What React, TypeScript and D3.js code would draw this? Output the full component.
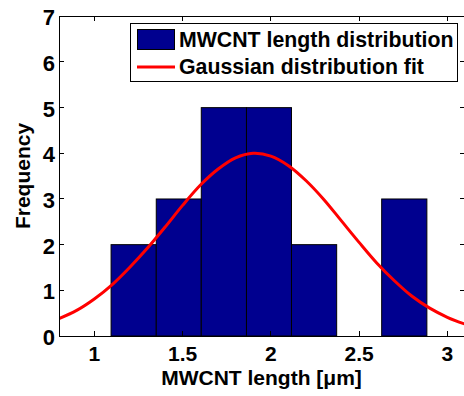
import React, { useEffect, useRef } from 'react';
import * as d3 from 'd3';

// histogram bins
const binEdges = [1.095, 1.351, 1.606, 1.862, 2.117, 2.373, 2.628, 2.884];
const binCounts = [2, 3, 5, 5, 2, 0, 3];

// gaussian fit curve
const fitX = [0.8, 0.9, 1.0, 1.1, 1.2, 1.3, 1.4, 1.5, 1.6, 1.7, 1.8, 1.9, 2.0, 2.1, 2.2, 2.3, 2.4, 2.5, 2.6, 2.7, 2.8, 2.9, 3.0, 3.1];
const fitY = [0.38, 0.56, 0.81, 1.12, 1.5, 1.92, 2.38, 2.86, 3.3, 3.65, 3.9, 4.0, 3.94, 3.73, 3.4, 2.99, 2.52, 2.05, 1.6, 1.21, 0.87, 0.61, 0.41, 0.26];

const xTicks = [1, 1.5, 2, 2.5, 3];
const yTicks = [0, 1, 2, 3, 4, 5, 6, 7];

const seriesNames = ['MWCNT length distribution', 'Gaussian distribution fit'];

const W = 464;
const H = 396;
const FONT = '"Liberation Sans", Arial, Helvetica, sans-serif';

const App: React.FC = () => {
  const ref = useRef<SVGSVGElement>(null);

  useEffect(() => {
    if (!ref.current) return;
    const svg = d3.select(ref.current);
    svg.selectAll('*').remove();

    const left = 59, right = 465, top = 16.3, bottom = 336;

    const x = d3.scaleLinear().domain([0.8, 3.1]).range([left, right]);
    const y = d3.scaleLinear().domain([0, 7]).range([bottom, top]);

    const clipId = 'plot-clip';
    svg.append('clipPath').attr('id', clipId)
      .append('rect')
      .attr('x', left).attr('y', top)
      .attr('width', right - left).attr('height', bottom - top);

    const plot = svg.append('g').attr('clip-path', `url(#${clipId})`);

    // bars
    const bins = binCounts.map((c, i) => ({ x0: binEdges[i], x1: binEdges[i + 1], c }));
    plot.selectAll('rect.bar')
      .data(bins.filter(b => b.c > 0))
      .enter()
      .append('rect')
      .attr('class', 'bar')
      .attr('x', d => x(d.x0))
      .attr('y', d => y(d.c))
      .attr('width', d => x(d.x1) - x(d.x0))
      .attr('height', d => y(0) - y(d.c))
      .attr('fill', '#00008f')
      .attr('stroke', '#000')
      .attr('stroke-width', 1);

    // fit line
    const line = d3.line<number>()
      .x((_, i) => x(fitX[i]))
      .y(d => y(d))
      .curve(d3.curveCatmullRom);

    plot.append('path')
      .datum(fitY)
      .attr('fill', 'none')
      .attr('stroke', '#ff0000')
      .attr('stroke-width', 3)
      .attr('d', line);

    // box axes with inward ticks
    const ax = svg.append('g').attr('stroke', '#000').attr('stroke-width', 1).attr('shape-rendering', 'crispEdges');
    ax.append('rect')
      .attr('x', left).attr('y', top)
      .attr('width', right - left).attr('height', bottom - top)
      .attr('fill', 'none');

    const tl = 5;
    xTicks.forEach(t => {
      ax.append('line').attr('x1', x(t)).attr('x2', x(t)).attr('y1', bottom).attr('y2', bottom - tl);
      ax.append('line').attr('x1', x(t)).attr('x2', x(t)).attr('y1', top).attr('y2', top + tl);
    });
    yTicks.forEach(t => {
      ax.append('line').attr('x1', left).attr('x2', left + tl).attr('y1', y(t)).attr('y2', y(t));
      ax.append('line').attr('x1', right).attr('x2', right - tl).attr('y1', y(t)).attr('y2', y(t));
    });

    const labels = svg.append('g')
      .attr('font-family', FONT)
      .attr('font-weight', 'bold')
      .attr('font-size', 21)
      .attr('fill', '#000');

    labels.selectAll('text.xt')
      .data(xTicks)
      .enter()
      .append('text')
      .attr('class', 'xt')
      .attr('x', d => x(d))
      .attr('y', bottom + 25)
      .attr('text-anchor', 'middle')
      .text(d => d3.format('')(d));

    labels.selectAll('text.yt')
      .data(yTicks)
      .enter()
      .append('text')
      .attr('class', 'yt')
      .attr('x', left - 4)
      .attr('y', d => y(d) + 9)
      .attr('text-anchor', 'end')
      .attr('font-size', 22)
      .text(d => String(d));

    labels.append('text')
      .attr('x', (left + 464) / 2)
      .attr('y', 385)
      .attr('text-anchor', 'middle')
      .text('MWCNT length [\u03bcm]');

    labels.append('text')
      .attr('transform', `translate(30,176) rotate(-90)`)
      .attr('text-anchor', 'middle')
      .text('Frequency');

    // legend
    const lg = svg.append('g');
    lg.append('rect')
      .attr('x', 130.5).attr('y', 23.5)
      .attr('width', 327).attr('height', 58)
      .attr('fill', '#fff')
      .attr('stroke', '#000')
      .attr('stroke-width', 1);
    lg.append('rect')
      .attr('x', 137.5).attr('y', 29.5)
      .attr('width', 37).attr('height', 20)
      .attr('fill', '#00008f')
      .attr('stroke', '#000')
      .attr('stroke-width', 1);
    lg.append('line')
      .attr('x1', 137).attr('x2', 175)
      .attr('y1', 67).attr('y2', 67)
      .attr('stroke', '#ff0000')
      .attr('stroke-width', 3);
    lg.selectAll('text')
      .data(seriesNames)
      .enter()
      .append('text')
      .attr('x', 179)
      .attr('y', (_, i) => (i === 0 ? 46.5 : 74))
      .attr('font-family', FONT)
      .attr('font-weight', 'bold')
      .attr('font-size', 21.3)
      .text(d => d);
  }, []);

  return (
    <svg
      ref={ref}
      width={W}
      height={H}
      style={{ position: 'absolute', left: 0, top: 0, background: '#fff' }}
    />
  );
};

export default App;
